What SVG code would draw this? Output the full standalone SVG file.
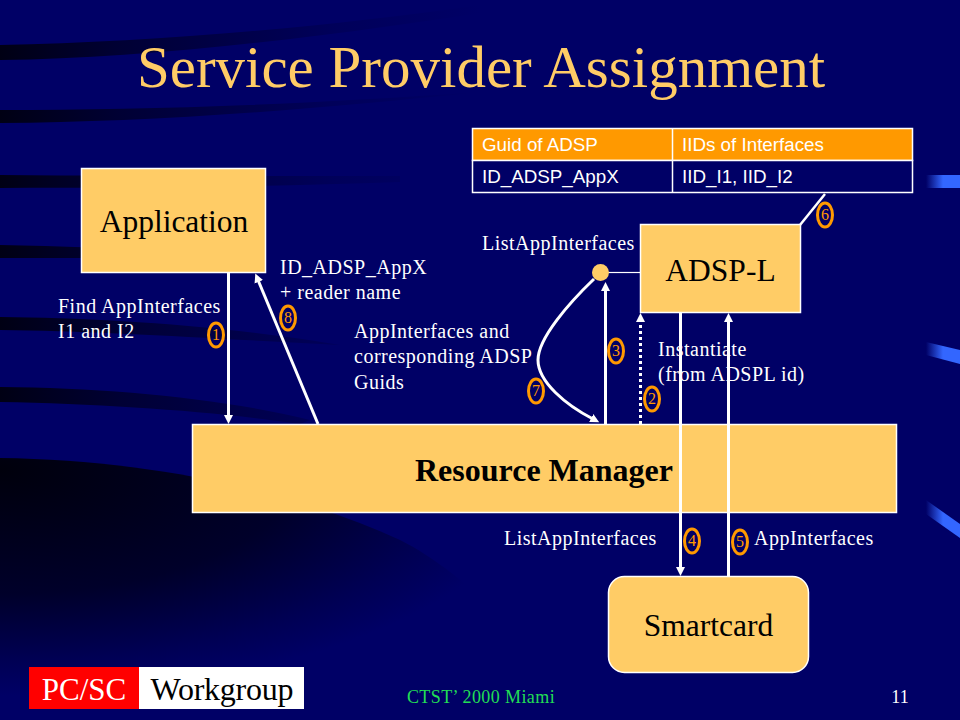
<svg xmlns="http://www.w3.org/2000/svg" width="960" height="720" viewBox="0 0 960 720">
<style>
.ser{font-family:"Liberation Serif","Times New Roman",serif}
.san{font-family:"Liberation Sans",Arial,sans-serif}
.box{fill:#ffcc66;stroke:#fff;stroke-width:1.5}
.lbl{font-family:"Liberation Serif",serif;font-size:20px;letter-spacing:.5px;fill:#fff}
.nm{font-family:"Liberation Serif",serif;font-size:31.500px;fill:#000;text-anchor:middle}
.cn{fill:none;stroke:#fff;stroke-width:3}
.bd{fill:none;stroke:#ff9900;stroke-width:3}
.bt{font-family:"Liberation Serif",serif;font-size:16px;fill:#ff9900;text-anchor:middle}
.th{font-family:"Liberation Sans",sans-serif;font-size:18.800px;fill:#fff}
</style>
<defs>
<linearGradient id="sw" x1="0" y1="0" x2="480" y2="0" gradientUnits="userSpaceOnUse"><stop offset="0" stop-color="#000014"/><stop offset=".25" stop-color="#000034"/><stop offset=".7" stop-color="#00005a"/><stop offset="1" stop-color="#000066"/></linearGradient>
<radialGradient id="big" gradientUnits="userSpaceOnUse" cx="0" cy="0" r="1" gradientTransform="translate(0 470) scale(540 225)"><stop offset="0" stop-color="#00000c"/><stop offset=".55" stop-color="#00002a"/><stop offset=".85" stop-color="#000054"/><stop offset="1" stop-color="#000066"/></radialGradient>
<linearGradient id="tab1" x1="0" x2="1" y1="0" y2="0"><stop offset="0" stop-color="#000066"/><stop offset=".5" stop-color="#3366ff"/><stop offset="1" stop-color="#3366ff"/></linearGradient>
<marker id="ah" markerUnits="userSpaceOnUse" markerWidth="12" markerHeight="12" refX="2" refY="5" orient="auto"><path d="M0,0.500L9,5L0,9.500z" fill="#fff"/></marker>
</defs>
<rect width="960" height="720" fill="#000066"/>
<g id="background">
<path d="M0,45C150,42 320,28 480,5L520,0H560C380,30 170,58 0,60z" fill="url(#sw)"/>
<path d="M0,110C140,110 280,106 480,92C290,112 140,122 0,123z" fill="url(#sw)"/>
<path d="M0,175C120,176 260,176 400,176L400,182C260,187 120,188 0,188z" fill="url(#sw)"/>
<path d="M0,245C60,246 120,248 180,252V258H0z" fill="url(#sw)"/>
<path d="M0,317C100,318 220,325 340,345C220,339 100,331 0,330z" fill="url(#sw)"/>
<path d="M0,387C110,388 220,398 310,420L300,424C220,412 110,404 0,402z" fill="url(#sw)"/>
<path d="M0,458C150,460 290,490 400,540C440,560 490,600 540,660V720H0z" fill="url(#big)"/>
<path d="M926,175H960V188H926z" fill="url(#tab1)"/>
<path d="M926,342L960,350V364L926,355z" fill="url(#tab1)"/>
<path d="M926,500L960,524V538L926,514z" fill="url(#tab1)"/>
</g>
<text id="title" class="ser" x="481" y="87" font-size="59" fill="#ffcc66" text-anchor="middle">Service Provider Assignment</text>
<g id="labels">
<text class="lbl" x="58" y="313">Find AppInterfaces</text><text class="lbl" x="58" y="338">I1 and I2</text>
<text class="lbl" x="280" y="274">ID_ADSP_AppX</text><text class="lbl" x="280" y="299">+ reader name</text>
<text class="lbl" x="354" y="338">AppInterfaces and</text><text class="lbl" x="354" y="363">corresponding ADSP</text><text class="lbl" x="354" y="389">Guids</text>
<text class="lbl" x="482" y="250">ListAppInterfaces</text>
<text class="lbl" x="658" y="356">Instantiate</text><text class="lbl" x="658" y="381">(from ADSPL id)</text>
<text class="lbl" x="504" y="545">ListAppInterfaces</text><text class="lbl" x="754" y="545">AppInterfaces</text>
</g>
<g id="resource-manager"><rect class="box" x="192.500" y="424.500" width="704" height="88"/><text class="ser" x="544" y="481" font-size="32" font-weight="bold" text-anchor="middle" fill="#000" textLength="258">Resource Manager</text></g>
<g id="connectors">
<path class="cn" d="M228.500,273V417" marker-end="url(#ah)"/>
<path class="cn" d="M318,424L258,280" marker-end="url(#ah)"/>
<path class="cn" d="M594,279C570,302 538,338 538,360C538,382 566,405 593,419" marker-end="url(#ah)"/>
<path class="cn" d="M605.500,424V289" marker-end="url(#ah)"/>
<path d="M640.500,424V321" fill="none" stroke="#fff" stroke-width="3" stroke-dasharray="3 3"/>
<path d="M640.500,313L645,322H636z" fill="#fff"/>
<path class="cn" d="M680.500,313V569" marker-end="url(#ah)"/>
<path class="cn" d="M728.500,577V320" marker-end="url(#ah)"/>
<path d="M800,225L825,194" fill="none" stroke="#fff" stroke-width="2.500"/>
<path d="M608,272.500H640" stroke="#fff" stroke-width="1.200" fill="none"/>
</g>
<g id="application"><rect class="box" x="81.500" y="168.500" width="184" height="104"/><text class="nm" x="174" y="232">Application</text></g>
<g id="adsp-l"><rect class="box" x="640.500" y="224.500" width="160" height="88"/><text class="nm" x="720.500" y="281">ADSP-L</text></g>
<g id="smartcard"><rect class="box" x="608.500" y="576.500" width="200" height="96" rx="16"/><text class="nm" x="708.500" y="636">Smartcard</text></g>
<g id="port"><circle cx="600.500" cy="272.500" r="8.500" fill="#ffcc66"/></g>
<g id="table">
<rect x="472.500" y="128.500" width="440" height="32" fill="#ff9900" stroke="#fff" stroke-width="1.500"/>
<rect x="472.500" y="160.500" width="440" height="32" fill="#000066" stroke="#fff" stroke-width="1.500"/>
<path d="M672.500,128V192" stroke="#fff" stroke-width="1.500"/>
<text class="th" x="482" y="151">Guid of ADSP</text><text class="th" x="682" y="151">IIDs of Interfaces</text>
<text class="th" x="482" y="183">ID_ADSP_AppX</text><text class="th" x="682" y="183">IID_I1, IID_I2</text>
</g>
<g id="badge-1"><ellipse class="bd" cx="216" cy="335" rx="7.500" ry="12"/><text class="bt" x="216" y="340">1</text></g>
<g id="badge-2"><ellipse class="bd" cx="652" cy="399" rx="7.500" ry="12"/><text class="bt" x="652" y="404">2</text></g>
<g id="badge-3"><ellipse class="bd" cx="616" cy="351" rx="7.500" ry="12"/><text class="bt" x="616" y="356">3</text></g>
<g id="badge-4"><ellipse class="bd" cx="692" cy="541" rx="7.500" ry="12"/><text class="bt" x="692" y="546">4</text></g>
<g id="badge-5"><ellipse class="bd" cx="740" cy="542" rx="7.500" ry="12"/><text class="bt" x="740" y="547">5</text></g>
<g id="badge-6"><ellipse class="bd" cx="825" cy="215" rx="7.500" ry="12"/><text class="bt" x="825" y="220">6</text></g>
<g id="badge-7"><ellipse class="bd" cx="536" cy="391" rx="7.500" ry="12"/><text class="bt" x="536" y="396">7</text></g>
<g id="badge-8"><ellipse class="bd" cx="288" cy="318" rx="7.500" ry="12"/><text class="bt" x="288" y="323">8</text></g>
<g id="logo">
<rect x="29" y="667" width="110" height="42" fill="#ff0000"/><rect x="139" y="667" width="165" height="42" fill="#fff"/>
<text class="ser" x="84" y="700" font-size="31" fill="#fff" text-anchor="middle">PC/SC</text>
<text class="ser" x="222" y="700" font-size="32" fill="#000" text-anchor="middle" textLength="143">Workgroup</text>
</g>
<text id="footer" class="ser" x="481" y="703" font-size="18" letter-spacing=".4" fill="#22dd55" text-anchor="middle">CTST’ 2000 Miami</text>
<text id="page" class="ser" x="900" y="703" font-size="18" fill="#fff" text-anchor="middle">11</text>
</svg>
